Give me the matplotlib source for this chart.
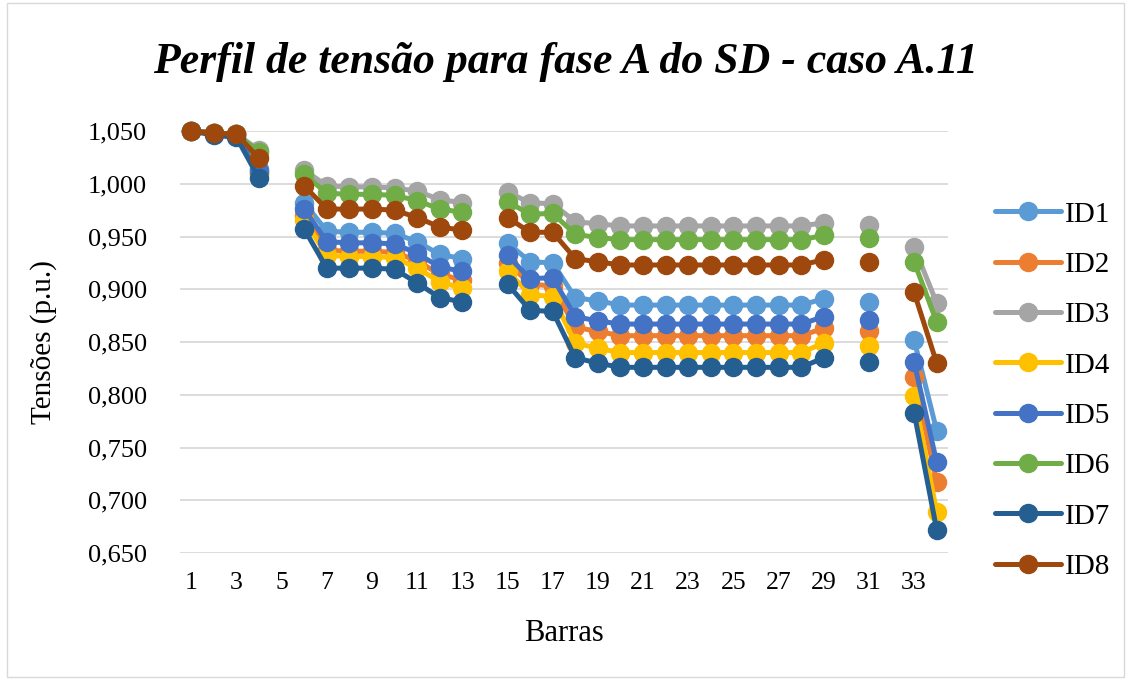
import numpy as np
import matplotlib
matplotlib.use("Agg")
import matplotlib.pyplot as plt
from matplotlib.patches import Rectangle

nan = np.nan
bars = list(range(1, 35))

ID1 = [1.050, 1.048, 1.047, 1.014, nan, 0.982, 0.955, 0.954, 0.954, 0.953, 0.945, 0.933, 0.929, nan,
       0.944, 0.926, 0.925, 0.892, 0.889, 0.885, 0.885, 0.885, 0.885, 0.885, 0.885, 0.885, 0.885, 0.885,
       0.891, nan, 0.888, nan, 0.852, 0.766]
ID2 = [1.050, 1.048, 1.047, 1.010, nan, 0.970, 0.937, 0.936, 0.936, 0.935, 0.927, 0.914, 0.909, nan,
       0.925, 0.905, 0.903, 0.864, 0.860, 0.856, 0.856, 0.856, 0.856, 0.856, 0.856, 0.856, 0.856, 0.856,
       0.863, nan, 0.860, nan, 0.817, 0.717]
ID3 = [1.050, 1.048, 1.047, 1.032, nan, 1.013, 0.998, 0.997, 0.997, 0.996, 0.993, 0.985, 0.982, nan,
       0.992, 0.982, 0.981, 0.964, 0.962, 0.960, 0.960, 0.960, 0.960, 0.960, 0.960, 0.960, 0.960, 0.960,
       0.963, nan, 0.961, nan, 0.940, 0.887]
ID4 = [1.050, 1.048, 1.047, 1.009, nan, 0.966, 0.932, 0.931, 0.931, 0.930, 0.920, 0.907, 0.901, nan,
       0.917, 0.895, 0.893, 0.849, 0.844, 0.840, 0.840, 0.840, 0.840, 0.840, 0.840, 0.840, 0.840, 0.840,
       0.849, nan, 0.846, nan, 0.799, 0.689]
ID5 = [1.050, 1.048, 1.047, 1.012, nan, 0.976, 0.945, 0.944, 0.944, 0.943, 0.934, 0.921, 0.917, nan,
       0.932, 0.910, 0.911, 0.874, 0.870, 0.867, 0.867, 0.867, 0.867, 0.867, 0.867, 0.867, 0.867, 0.867,
       0.874, nan, 0.871, nan, 0.831, 0.736]
ID6 = [1.050, 1.048, 1.047, 1.030, nan, 1.009, 0.991, 0.990, 0.990, 0.989, 0.984, 0.976, 0.973, nan,
       0.983, 0.971, 0.972, 0.952, 0.949, 0.947, 0.947, 0.947, 0.947, 0.947, 0.947, 0.947, 0.947, 0.947,
       0.951, nan, 0.949, nan, 0.926, 0.869]
ID7 = [1.050, 1.046, 1.044, 1.005, nan, 0.957, 0.920, 0.920, 0.920, 0.919, 0.906, 0.892, 0.888, nan,
       0.905, 0.880, 0.879, 0.835, 0.830, 0.826, 0.826, 0.826, 0.826, 0.826, 0.826, 0.826, 0.826, 0.826,
       0.835, nan, 0.831, nan, 0.783, 0.672]
ID8 = [1.050, 1.048, 1.047, 1.024, nan, 0.998, 0.976, 0.976, 0.976, 0.975, 0.968, 0.959, 0.956, nan,
       0.968, 0.954, 0.954, 0.929, 0.926, 0.923, 0.923, 0.923, 0.923, 0.923, 0.923, 0.923, 0.923, 0.923,
       0.928, nan, 0.926, nan, 0.897, 0.830]

series_names = ["ID1", "ID2", "ID3", "ID4", "ID5", "ID6", "ID7", "ID8"]
series = [ID1, ID2, ID3, ID4, ID5, ID6, ID7, ID8]
colors = ["#5B9BD5", "#ED7D31", "#A5A5A5", "#FFC000", "#4472C4", "#70AD47", "#255E91", "#9E480E"]
yticks = [0.650, 0.700, 0.750, 0.800, 0.850, 0.900, 0.950, 1.000, 1.050]
xtick_labels = [str(b) for b in bars if b % 2 == 1]

plt.rcParams['font.family'] = ['Liberation Serif', 'DejaVu Serif']

W, H = 1130, 679
fig = plt.figure(figsize=(W / 100, H / 100), dpi=100)
fig.patches.append(Rectangle((7 / W, 2 / H), (1124 - 7) / W, (676 - 2) / H, transform=fig.transFigure,
                             fill=False, edgecolor="#D9D9D9", linewidth=1.0))

ax = fig.add_axes([180 / W, 1 - 553 / H, (948 - 180) / W, (553 - 131) / H])
for name, vals, c in zip(series_names, series, colors):
    ax.plot(bars, vals, color=c, linewidth=3.6, marker="o", markersize=13,
            solid_capstyle="round", label=name, clip_on=False)

ax.set_xlim(0.5, 34.5)
ax.set_ylim(0.65, 1.05)
ax.set_yticks(yticks)
ax.set_yticklabels([f"{v:.3f}".replace(".", ",") for v in yticks], fontsize=19)
ax.set_xticks([b for b in bars if b % 2 == 1])
ax.set_xticklabels(xtick_labels, fontsize=18.5)
ax.tick_params(length=0)
ax.tick_params(axis="x", pad=14)
ax.tick_params(axis="y", pad=24)
ax.grid(axis="y", color="#D9D9D9", linewidth=1.3)
ax.set_axisbelow(True)
for s in ax.spines.values():
    s.set_visible(False)

ax.set_xlabel("Barras", fontsize=22, labelpad=18)
ax.set_ylabel("Tensões (p.u.)", fontsize=21, labelpad=22)
fig.text(0.5, 1 - 62 / H, "Perfil de tensão para fase A do SD - caso A.11", ha="center", va="center",
         fontsize=31.5, fontweight="bold", fontstyle="italic")

fig.legend(loc="upper left", bbox_to_anchor=(969 / W, 1 - 175 / H), frameon=False, fontsize=21,
           handlelength=2.25, labelspacing=0.82, handletextpad=0.15)

fig.savefig("out.png", dpi=100)
